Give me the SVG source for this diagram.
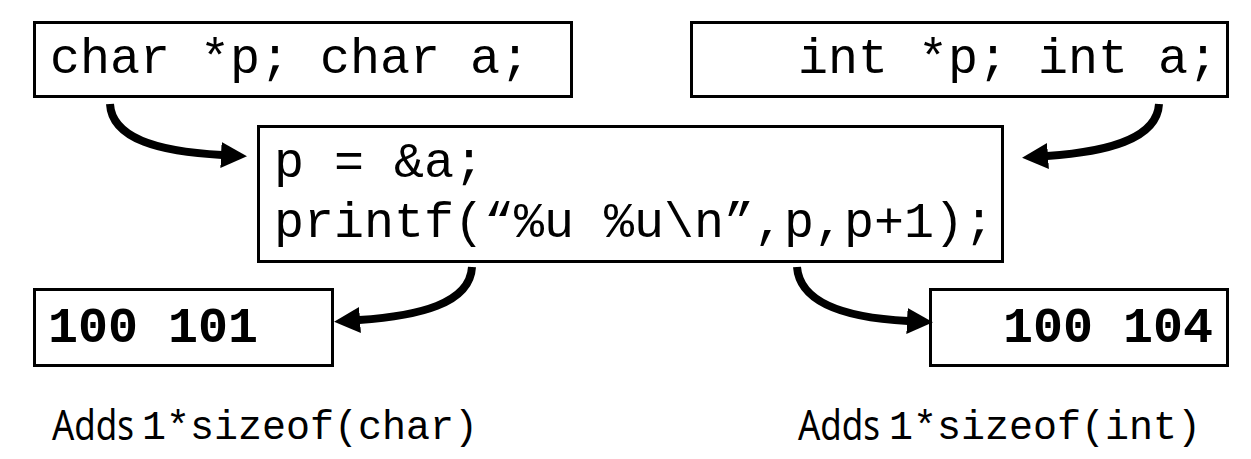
<svg xmlns="http://www.w3.org/2000/svg" width="1251" height="459" viewBox="0 0 1251 459">
<style>
.box{fill:#fff;stroke:#000;stroke-width:3}
.code{font-family:"Liberation Mono","Courier New",monospace;font-size:50px;fill:#000}
.bold{font-weight:bold}
.lbl{font-family:"Noto Sans","Open Sans",sans-serif;font-size:41px;fill:#000}
.lcode{font-family:"Liberation Mono","Courier New",monospace;font-size:40px;fill:#000}
.conn{fill:none;stroke:#000;stroke-width:8}
</style>
<defs>
<marker id="ah" markerUnits="userSpaceOnUse" viewBox="0 0 26 26" refX="1" refY="13" markerWidth="26" markerHeight="26" orient="auto">
<path d="M0,0 L26,13 L0,26 Z" fill="#000"/>
</marker>
</defs>
<rect width="1251" height="459" fill="#fff"/>
<g id="decl-char">
<rect class="box" x="34.5" y="22.5" width="537" height="74"/>
<text class="code" x="50" y="73">char *p; char a;</text>
</g>
<g id="decl-int">
<rect class="box" x="691.5" y="22.5" width="536" height="74"/>
<text class="code" x="798" y="73">int *p; int a;</text>
</g>
<g id="code">
<rect class="box" x="258.5" y="126.5" width="744" height="135"/>
<text class="code" x="274" y="177">p = &amp;a;</text>
<text class="code" x="274" y="237">printf(“%u %u\n”,p,p+1);</text>
</g>
<g id="out-char">
<rect class="box" x="34.5" y="289.5" width="298" height="76"/>
<text class="code bold" x="48" y="342">100 101</text>
</g>
<g id="out-int">
<rect class="box" x="930.5" y="289.5" width="297" height="76"/>
<text class="code bold" x="1003" y="342">100 104</text>
</g>
<g id="note-char">
<text class="lbl" x="52" y="440" textLength="82" lengthAdjust="spacingAndGlyphs">Adds</text>
<text class="lcode" x="142" y="439">1*sizeof(char)</text>
</g>
<g id="note-int">
<text class="lbl" x="798" y="440" textLength="82" lengthAdjust="spacingAndGlyphs">Adds</text>
<text class="lcode" x="889" y="439">1*sizeof(int)</text>
</g>
<g id="connectors">
<path class="conn" marker-end="url(#ah)" d="M110,104 C112,140 162,152 222,155"/>
<path class="conn" marker-end="url(#ah)" d="M1159,104 C1157,140 1105,152 1047,156"/>
<path class="conn" marker-end="url(#ah)" d="M472,267 C470,304 418,316 359,320"/>
<path class="conn" marker-end="url(#ah)" d="M797,267 C800,305 850,318 908,321"/>
</g>
</svg>
